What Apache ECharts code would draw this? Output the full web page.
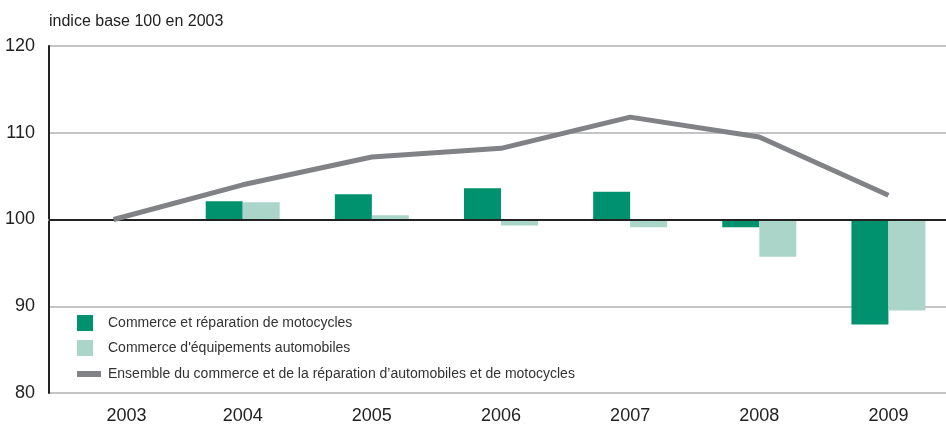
<!DOCTYPE html>
<html>
<head>
<meta charset="utf-8">
<script src="https://cdn.jsdelivr.net/npm/echarts@6/dist/echarts.min.js"></script>
<style>
  html, body { margin: 0; padding: 0; background: #fff; overflow: hidden; }
  #chart { width: 953px; height: 428px; }
</style>
</head>
<body>
<div id="chart"></div>
<script>
const years = ['2003', '2004', '2005', '2006', '2007', '2008', '2009'];
// indices base 100 en 2003
const motos = [100, 102.1, 102.9, 103.6, 103.2, 99.1, 87.9];
const equip = [100, 102.0, 100.5, 99.3, 99.1, 95.7, 89.5];
const ensemble = [100, 104.0, 107.2, 108.2, 111.8, 109.5, 102.8];
const yTicks = [80, 90, 100, 110, 120];

const BASE = 100;
const FONT = "'Liberation Sans Narrow', 'Arial Narrow', 'Liberation Sans', sans-serif";
const toDelta = (arr) => arr.map((v) => +(v - BASE).toFixed(2));

const names = [
  'Commerce et réparation de motocycles',
  "Commerce d'équipements automobiles",
  'Ensemble du commerce et de la réparation d’automobiles et de motocycles',
];

const chart = echarts.init(document.getElementById('chart'));

const option = {
  animation: false,
  title: {
    text: 'indice base 100 en 2003',
    left: 44,
    top: 9,
    textStyle: { fontFamily: FONT, fontSize: 16, fontWeight: 'normal', color: '#222' },
  },
  legend: [
    {
      orient: 'vertical',
      left: 77,
      top: 315,
      padding: 0,
      itemWidth: 16,
      itemHeight: 16,
      itemGap: 9,
      icon: 'rect',
      data: [names[0], names[1]],
      textStyle: { fontFamily: FONT, fontSize: 14, color: '#333', padding: [0, 0, 0, 10] },
    },
    {
      orient: 'vertical',
      left: 77,
      top: 367,
      padding: 0,
      itemWidth: 24,
      itemHeight: 6,
      icon: 'rect',
      data: [names[2]],
      textStyle: { fontFamily: FONT, fontSize: 14, color: '#333', padding: [0, 0, 0, 2] },
    },
  ],
  grid: { left: 49, right: 0, top: 46, bottom: 35, containLabel: false },
  xAxis: {
    type: 'category',
    data: years,
    boundaryGap: true,
    axisLine: { show: true, lineStyle: { color: '#bdbdbd', width: 2 } },
    axisTick: { show: false },
    axisLabel: {
      fontFamily: FONT,
      fontSize: 18,
      color: '#222',
      margin: 14,
      // the first year label sits a little right of its slot in the source
      formatter: (v, i) => (i === 0 ? '{first|' + v + '}' : v),
      rich: {
        first: { fontFamily: FONT, fontSize: 18, color: '#222', padding: [0, 0, 0, 26] },
      },
    },
  },
  yAxis: {
    type: 'value',
    min: yTicks[0] - BASE,
    max: yTicks[yTicks.length - 1] - BASE,
    interval: 10,
    axisLine: { show: true, lineStyle: { color: '#222', width: 2 } },
    axisTick: { show: false },
    splitLine: { show: true, lineStyle: { color: '#c4c4c6', width: 2 } },
    axisLabel: {
      fontFamily: FONT,
      fontSize: 18,
      color: '#222',
      margin: 14,
      formatter: (v) => String(v + BASE),
    },
  },
  series: [
    {
      name: names[0],
      type: 'bar',
      data: toDelta(motos),
      barWidth: 37,
      barGap: '0%',
      itemStyle: { color: '#00916e' },
      z: 2,
    },
    {
      name: names[1],
      type: 'bar',
      data: toDelta(equip),
      barWidth: 37,
      itemStyle: { color: '#acd5ca' },
      z: 2,
    },
    {
      name: names[2],
      type: 'line',
      data: toDelta(ensemble),
      symbol: 'none',
      lineStyle: { color: '#808285', width: 5 },
      itemStyle: { color: '#808285' },
      z: 4,
      markLine: {
        silent: true,
        symbol: 'none',
        label: { show: false },
        lineStyle: { color: '#222', width: 2, type: 'solid' },
        data: [{ yAxis: 0 }],
        z: 3,
      },
    },
  ],
};

chart.setOption(option);
</script>
</body>
</html>
